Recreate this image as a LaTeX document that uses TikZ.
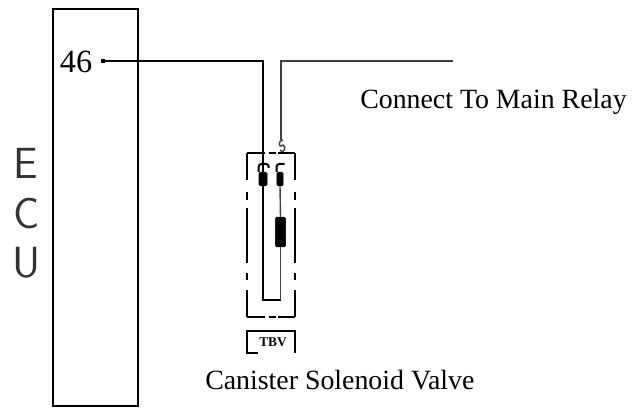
\documentclass[tikz,border=0pt]{standalone}
\usepackage{fontspec}
\setmainfont{Liberation Serif}
\usetikzlibrary{positioning}

\begin{document}
\begin{tikzpicture}[
	x=0.025cm, y=-0.025cm,
	box/.style={rectangle, draw=black, line width=1.4pt, inner sep=0pt},
	plugnode/.style={rectangle, draw=black, fill=black, rounded corners=1pt, inner sep=0pt, minimum width=0.2cm, minimum height=0.34cm},
	coilnode/.style={rectangle, draw=black, fill=black, rounded corners=1pt, inner sep=0pt, minimum width=0.26cm, minimum height=0.74cm},
	wire/.style={draw=black, line width=1.4pt},
	thinwire/.style={draw=black!75, line width=1pt},
	caption/.style={font=\fontsize{19.8}{24}\selectfont, inner sep=0pt, anchor=base west},
	letter/.style={font=\sffamily\fontsize{31}{31}\selectfont, text=black!80, inner sep=0pt, anchor=base},
	dashdot/.style={draw=black, line width=1.4pt, dash pattern=on 0.675cm off 0.3cm on 0.2cm off 0.2cm on 1.375cm off 0.25cm on 0.175cm off 0.25cm on 0.675cm},
	dashdoth/.style={draw=black, line width=1.4pt, dash pattern=on 0.45cm off 0.1cm on 0.175cm off 0.05cm on 0.45cm}
	]
	\useasboundingbox (0,0) rectangle (644,408);
	%Nodes
	\node[box, minimum width=2.125cm, minimum height=9.925cm](ECU) at (95.5,207.5) {};
	\node[letter](LetterE) at (26,178) {E};
	\node[letter](LetterC) at (27,228) {C};
	\node[letter](LetterU) at (27,277) {U};
	\node[font=\fontsize{23}{26}\selectfont, inner sep=0pt](Pin) at (76,62) {46};
	\node[caption](Relay) at (360,108) {Connect To Main Relay};
	\node[caption](Valve) at (205,389) {Canister Solenoid Valve};
	\node[plugnode](PlugLeft) at (263,179) {};
	\node[plugnode, minimum width=0.16cm](PlugRight) at (280,179) {};
	\node[coilnode](Coil) at (280.5,232) {};
	\node[font=\bfseries\fontsize{9.5}{11}\selectfont, inner sep=0pt](TBV) at (273,342) {TBV};
	\coordinate (PinEnd) at (101,61);
	\coordinate (RelayEnd) at (452,61);
	\coordinate (Bottom) at (262,300);
	\coordinate (Mark) at (281,140);
	%Lines
	\fill (PinEnd) ++(0,-2) rectangle ++(4,4);
	\fill (RelayEnd) circle (1.2);
	\draw[wire] (PinEnd) -| (PlugLeft.north);
	\draw[wire] (PlugLeft.south) |- (Bottom -| Coil.south);
	\draw[thinwire] (Bottom -| Coil.south) -- (Coil.south);
	\draw[thinwire] (Coil.north) -- (PlugRight.south);
	\draw[thinwire] (RelayEnd) -| (Mark);
	% Small mark on the wire
	\draw[thinwire] (Mark) ++(2,0) .. controls ++(-5,0) and ++(-5,4) .. ++(0,5) .. controls ++(4,1) and ++(4,5) .. ++(-3,5);
	% Hooks over the plugs
	\draw[wire, rounded corners=2pt] (PlugLeft.north west) -- ++(0,-8) -- ++(10,0) -- ++(0,4);
	\draw[wire, rounded corners=2pt] (PlugRight.north west) -- ++(0,-8) -- ++(8,0);
	% Dash dot housing
	\draw[dashdoth] (247,153) -- (295,153);
	\draw[dashdoth] (247,317) -- (295,317);
	\draw[dashdot] (247,153) -- (247,317);
	\draw[dashdot] (295,153) -- (295,317);
	% Label frame
	\draw[wire] (258,353) -- (247,353) -- (247,331) -- (295,331) -- (295,353);
\end{tikzpicture}
\end{document}
